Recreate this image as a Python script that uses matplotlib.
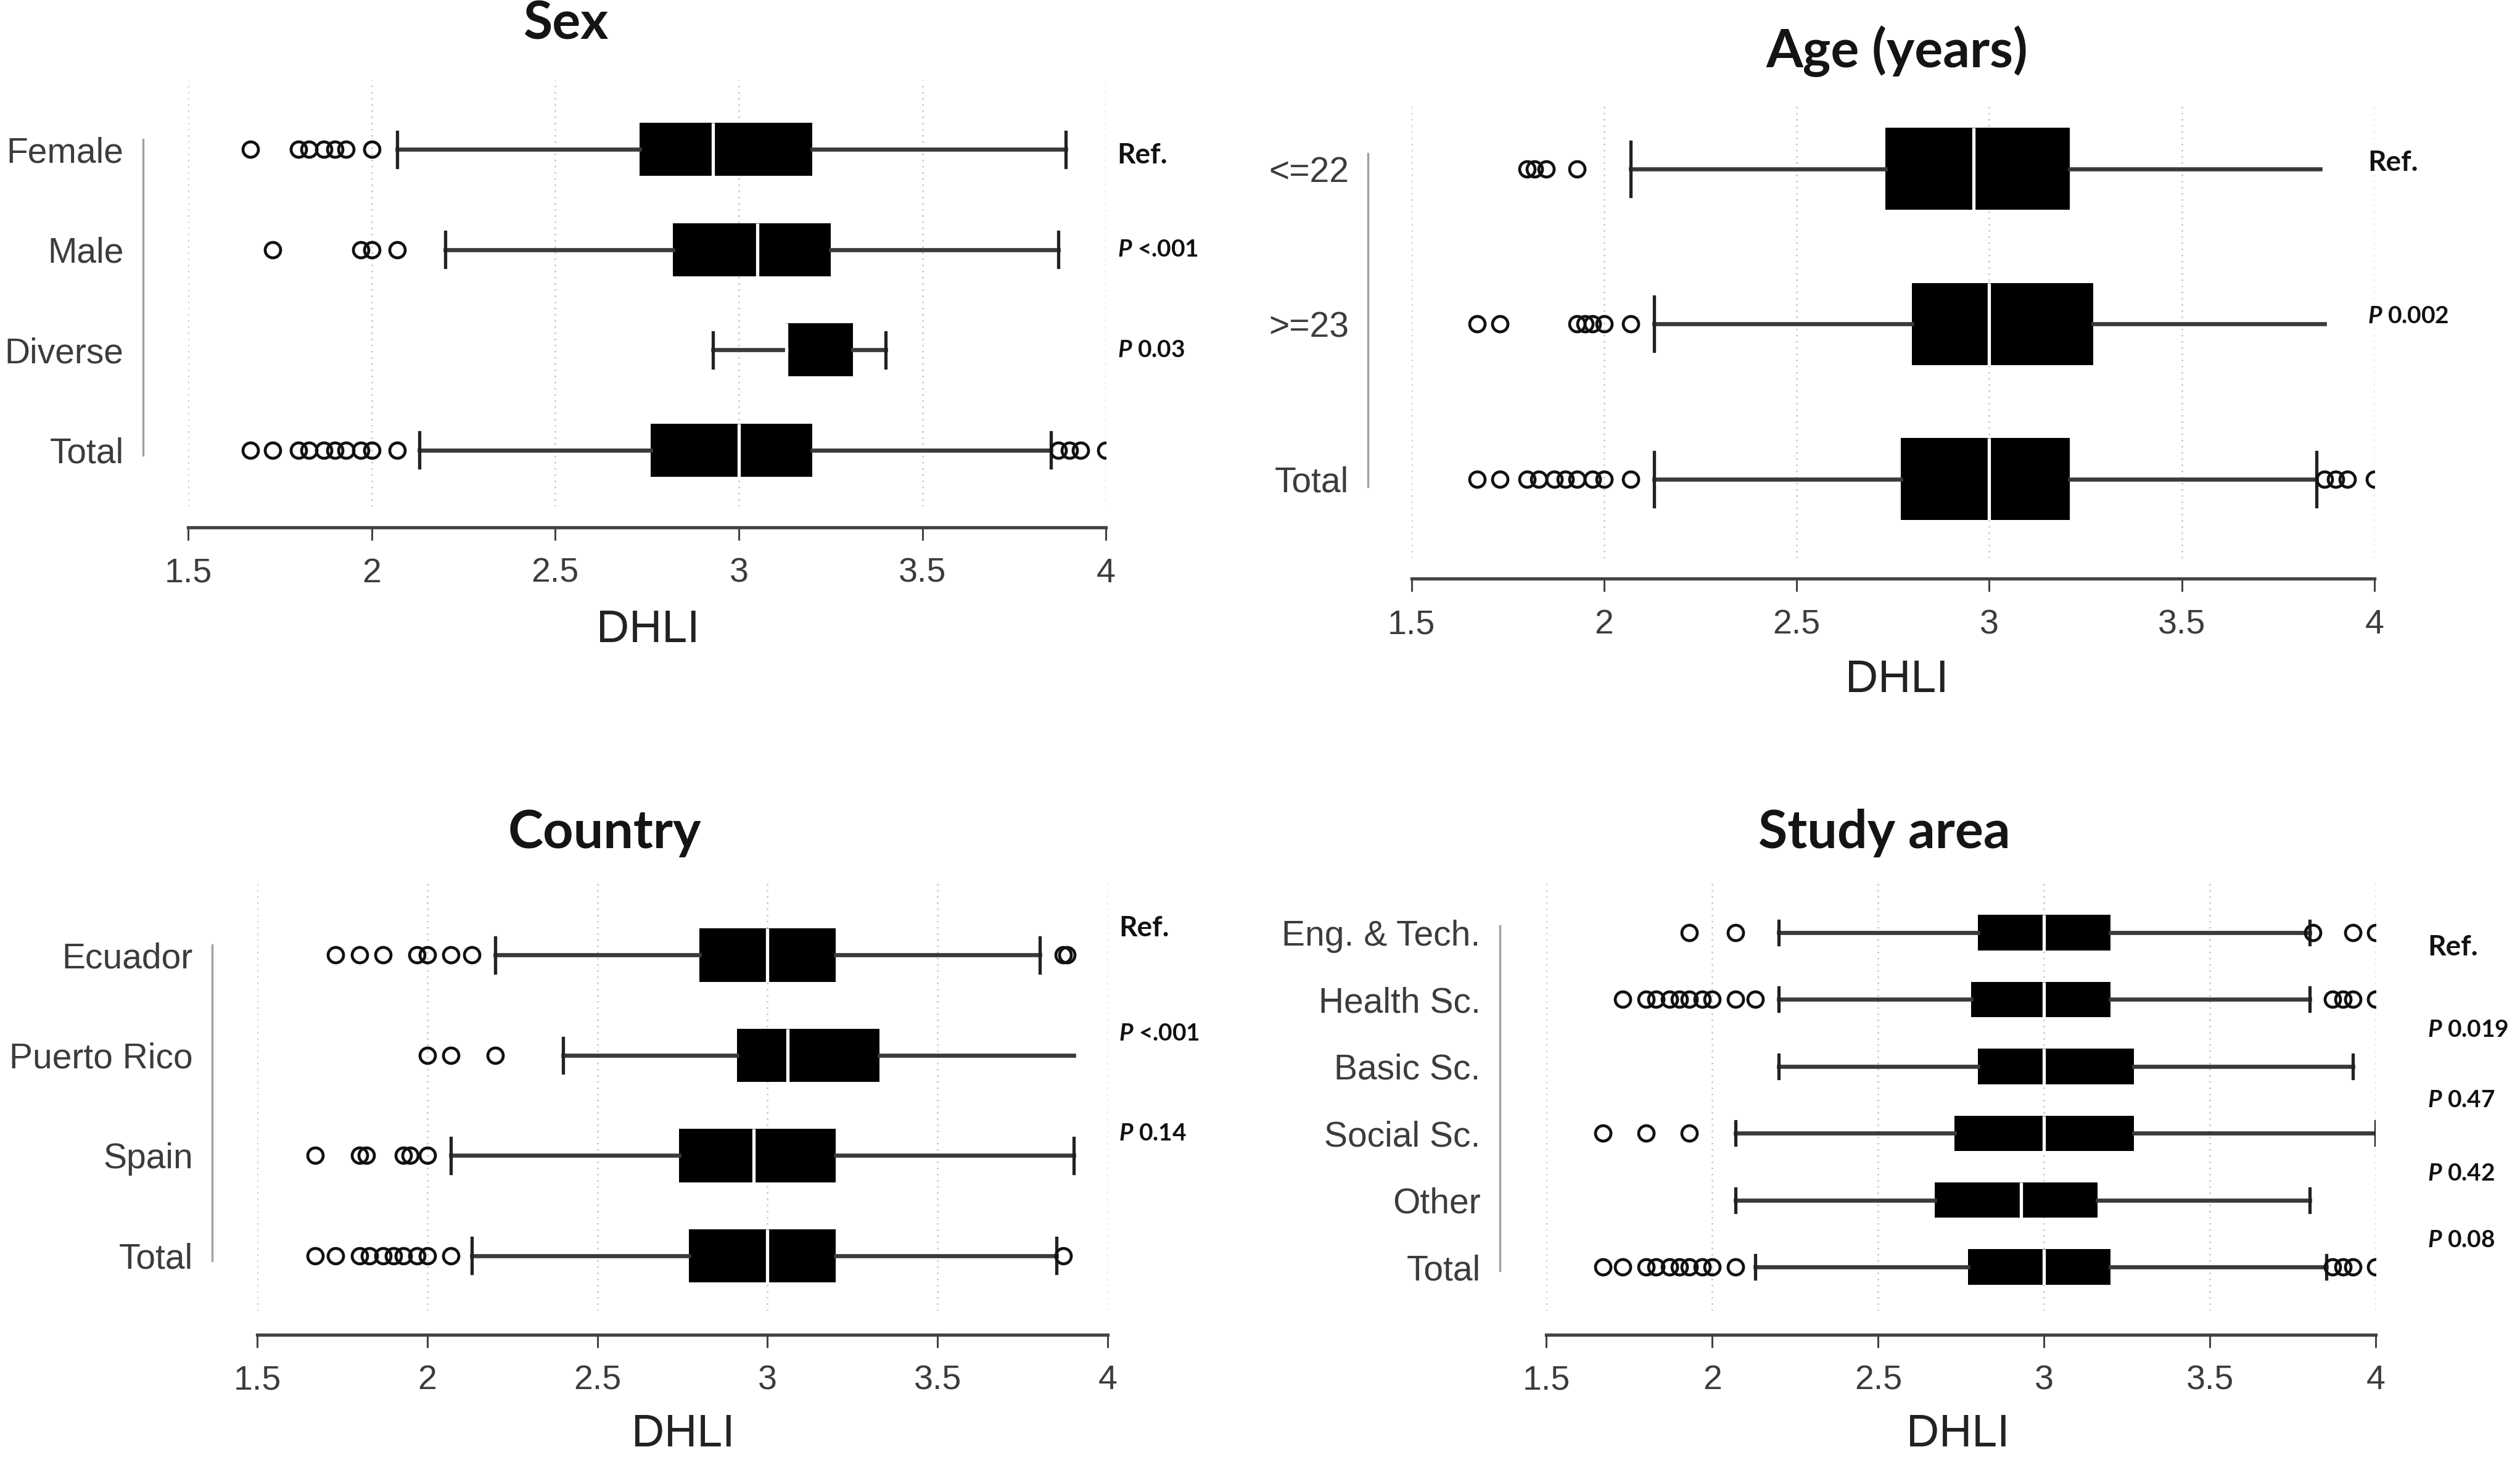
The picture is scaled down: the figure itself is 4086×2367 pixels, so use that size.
import numpy as np
import matplotlib
matplotlib.use('Agg')
import matplotlib.pyplot as plt

plt.rcParams.update({
    'font.family': ['Liberation Sans', 'DejaVu Sans'],
    'mathtext.fontset': 'custom',
    'mathtext.it': 'Lato:italic:bold',
    'mathtext.rm': 'Lato:bold',
})

# ---------------- data (DHLI box statistics) ----------------
sex_cats = ['Female', 'Male', 'Diverse', 'Total']
sex_q1 = [2.73, 2.82, 3.13, 2.76]
sex_med = [2.93, 3.05, 3.13, 3.00]
sex_q3 = [3.20, 3.25, 3.31, 3.20]
sex_lo = [2.07, 2.20, 2.93, 2.13]
sex_hi = [3.89, 3.87, 3.40, 3.85]
sex_out = [[1.67, 1.80, 1.83, 1.87, 1.90, 1.93, 2.00],
           [1.73, 1.97, 2.00, 2.07],
           [],
           [1.67, 1.73, 1.80, 1.83, 1.87, 1.90, 1.93, 1.97, 2.00, 2.07, 3.87, 3.90, 3.93, 4.00]]
sex_p = ['Ref.', r'$\mathit{P}$ <.001', r'$\mathit{P}$ 0.03', '']

age_cats = ['<=22', '>=23', 'Total']
age_q1 = [2.73, 2.80, 2.77]
age_med = [2.96, 3.00, 3.00]
age_q3 = [3.21, 3.27, 3.21]
age_lo = [2.07, 2.13, 2.13]
age_hi = [3.86, 3.87, 3.85]
age_out = [[1.80, 1.82, 1.85, 1.93],
           [1.67, 1.73, 1.93, 1.95, 1.97, 2.00, 2.07],
           [1.67, 1.73, 1.80, 1.83, 1.87, 1.90, 1.93, 1.97, 2.00, 2.07, 3.87, 3.90, 3.93, 4.00]]
age_p = ['Ref.', r'$\mathit{P}$ 0.002', '']

cty_cats = ['Ecuador', 'Puerto Rico', 'Spain', 'Total']
cty_q1 = [2.80, 2.91, 2.74, 2.77]
cty_med = [3.00, 3.06, 2.96, 3.00]
cty_q3 = [3.20, 3.33, 3.20, 3.20]
cty_lo = [2.20, 2.40, 2.07, 2.13]
cty_hi = [3.80, 3.90, 3.90, 3.85]
cty_out = [[1.73, 1.80, 1.87, 1.97, 2.00, 2.07, 2.13, 3.87, 3.88],
           [2.00, 2.07, 2.20],
           [1.67, 1.80, 1.82, 1.93, 1.95, 2.00],
           [1.67, 1.73, 1.80, 1.83, 1.87, 1.90, 1.93, 1.97, 2.00, 2.07, 3.87]]
cty_p = ['Ref.', r'$\mathit{P}$ <.001', r'$\mathit{P}$ 0.14', '']

std_cats = ['Eng. & Tech.', 'Health Sc.', 'Basic Sc.', 'Social Sc.', 'Other', 'Total']
std_q1 = [2.80, 2.78, 2.80, 2.73, 2.67, 2.77]
std_med = [3.00, 3.00, 3.00, 3.00, 2.93, 3.00]
std_q3 = [3.20, 3.20, 3.27, 3.27, 3.16, 3.20]
std_lo = [2.20, 2.20, 2.20, 2.07, 2.07, 2.13]
std_hi = [3.80, 3.80, 3.93, 4.00, 3.80, 3.85]
std_out = [[1.93, 2.07, 3.81, 3.93, 4.00],
           [1.73, 1.80, 1.83, 1.87, 1.90, 1.93, 1.97, 2.00, 2.07, 2.13, 3.87, 3.90, 3.93, 4.00],
           [],
           [1.67, 1.80, 1.93],
           [],
           [1.67, 1.73, 1.80, 1.83, 1.87, 1.90, 1.93, 1.97, 2.00, 2.07, 3.87, 3.90, 3.93, 4.00]]
std_p = ['Ref.', r'$\mathit{P}$ 0.019', r'$\mathit{P}$ 0.47', r'$\mathit{P}$ 0.42', r'$\mathit{P}$ 0.08']

xticks = [1.5, 2, 2.5, 3, 3.5, 4]

# ---------------- layout (pixels of a 1568 x 908 preview) ----------------
PW, PH = 1568, 908
SC = 4087 / PW
panels = [
    dict(title='Sex', cats=sex_cats, q1=sex_q1, med=sex_med, q3=sex_q3, lo=sex_lo, hi=sex_hi,
         out=sex_out, p=sex_p, l=117, r=688, t=50, b=315, axy=328, r0=93, r1=280,
         txy=(352, 15), lxy=(403, 392), gx=89, px=695, poff=[0.06, 0.0, 0.0, 0.0], nocap=[]),
    dict(title='Age (years)', cats=age_cats, q1=age_q1, med=age_med, q3=age_q3, lo=age_lo, hi=age_hi,
         out=age_out, p=age_p, l=878, r=1477, t=65, b=347, axy=360, r0=105, r1=298,
         txy=(1180, 32), lxy=(1180, 423), gx=851, px=1473, poff=[-0.04, -0.05, 0.0], nocap=[0, 1]),
    dict(title='Country', cats=cty_cats, q1=cty_q1, med=cty_med, q3=cty_q3, lo=cty_lo, hi=cty_hi,
         out=cty_out, p=cty_p, l=160, r=689, t=548, b=815, axy=830, r0=594, r1=781,
         txy=(376, 518), lxy=(425, 892), gx=132, px=696, poff=[-0.27, -0.22, -0.22, 0.0], nocap=[1]),
    dict(title='Study area', cats=std_cats, q1=std_q1, med=std_med, q3=std_q3, lo=std_lo, hi=std_hi,
         out=std_out, p=std_p, l=962, r=1478, t=548, b=815, axy=830, r0=580, r1=788,
         txy=(1172, 518), lxy=(1218, 892), gx=933, px=1510, poff=[0.22, 0.45, 0.5, 0.6, 0.6], nocap=[]),
]

fig = plt.figure(figsize=(40.87, 23.67), dpi=100)
GREY = '#3c3c3c'

for P in panels:
    n = len(P['cats'])
    ax = fig.add_axes([P['l'] / PW, 1 - P['b'] / PH, (P['r'] - P['l']) / PW, (P['b'] - P['t']) / PH])
    sp = (P['r1'] - P['r0']) / (n - 1)
    ax.set_ylim(n + (P['b'] - P['r1']) / sp, 1 - (P['r0'] - P['t']) / sp)
    ax.set_xlim(1.5, 4)

    stats = []
    for i in range(n):
        stats.append(dict(q1=P['q1'][i], med=P['med'][i], q3=P['q3'][i],
                          whislo=P['lo'][i], whishi=P['hi'][i], fliers=P['out'][i]))
    res = ax.bxp(stats, positions=np.arange(1, n + 1), orientation='horizontal', widths=0.53,
                 patch_artist=True, capwidths=0.35,
                 boxprops=dict(facecolor='black', edgecolor='black', linewidth=0),
                 medianprops=dict(color='white', linewidth=3.8),
                 whiskerprops=dict(color='#3a3a3a', linewidth=4.8),
                 capprops=dict(color='#222222', linewidth=3.8),
                 flierprops=dict(marker='o', markerfacecolor='none', markeredgecolor='#111111',
                                 markersize=18, markeredgewidth=3.4))
    for i in P['nocap']:
        res['caps'][2 * i + 1].set_visible(False)

    ax.set_xticks(xticks)
    ax.set_xticklabels(['1.5', '2', '2.5', '3', '3.5', '4'])
    ax.set_yticks(np.arange(1, n + 1))
    ax.set_yticklabels(P['cats'])
    ax.grid(axis='x', linestyle=(0, (1, 3)), color='#c4c4c4', linewidth=1.8)
    ax.set_axisbelow(True)
    for s in ['top', 'right', 'left']:
        ax.spines[s].set_visible(False)
    out_pt = (P['axy'] - P['b']) * SC * 0.72
    ax.spines['bottom'].set_position(('outward', out_pt))
    ax.spines['bottom'].set_color('#444444')
    ax.spines['bottom'].set_linewidth(3.8)
    ax.tick_params(axis='x', length=15, width=2.2, color='#444444', pad=20,
                   labelsize=40, labelcolor=GREY)
    ax.tick_params(axis='y', length=0, pad=(P['l'] - (P['gx'] - 12)) * SC * 0.72,
                   labelsize=41, labelcolor=GREY)

    # grey bracket line joining the categories
    gxa = (P['gx'] - P['l']) / (P['r'] - P['l'])
    ax.plot([gxa, gxa], [0.9, n + 0.05], transform=ax.get_yaxis_transform(),
            color='#a0a0a0', linewidth=2.4, clip_on=False)

    # p-values
    pxa = (P['px'] - P['l']) / (P['r'] - P['l'])
    for i, lab in enumerate(P['p']):
        if not lab:
            continue
        fs = 33 if lab == 'Ref.' else 28
        ax.text(pxa, i + 1 + P['poff'][i], lab, transform=ax.get_yaxis_transform(),
                ha='left', va='center', fontsize=fs, fontfamily='Lato', fontweight='bold',
                color='#111111')

    fig.text(P['txy'][0] / PW, 1 - P['txy'][1] / PH, P['title'], ha='center', va='center',
             fontsize=62, fontfamily='Lato', fontweight='bold', color='#141414')
    fig.text(P['lxy'][0] / PW, 1 - P['lxy'][1] / PH, 'DHLI', ha='center', va='center',
             fontsize=53, color='#222222')

fig.savefig('out.png', dpi=100)
